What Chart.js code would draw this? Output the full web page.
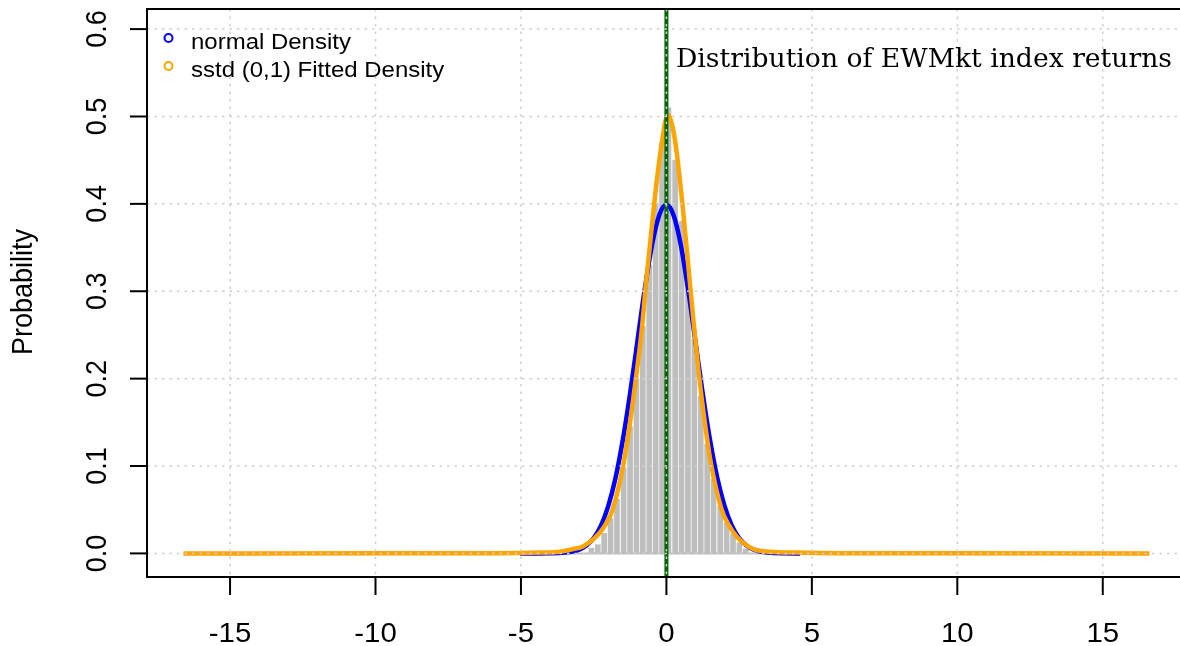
<!DOCTYPE html>
<html>
<head>
<meta charset="utf-8">
<script src="https://cdn.jsdelivr.net/npm/chart.js@4.4.0/dist/chart.umd.min.js"></script>
<style>
  html, body { margin: 0; padding: 0; background: #fff; }
  #wrap { width: 1180px; height: 646px; }
</style>
</head>
<body>
<div id="wrap"><canvas id="chart1" width="1180" height="646"></canvas></div>
<script>
// histogram of the standardised returns (bin centres / density)
const binCenters = [-2.58, -2.36, -2.14, -1.92, -1.70, -1.47, -1.25, -1.03, -0.81, -0.59, -0.37, -0.15,
  0.07, 0.30, 0.52, 0.74, 0.96, 1.18, 1.40, 1.62, 1.85, 2.07, 2.29, 2.51, 2.73];
const binDensity = [0.006, 0.010, 0.023, 0.040, 0.062, 0.098, 0.145, 0.200, 0.26, 0.33, 0.40, 0.47,
  0.51, 0.45, 0.38, 0.31, 0.245, 0.18, 0.125, 0.085, 0.055, 0.035, 0.022, 0.012, 0.005];
// the empty outer bins show as a flat grey line
const histRangeX = [-16.6, 16.6];
const histRangeY = [0, 0];

const normalX = [-5.03, -4.5, -4, -3.5, -3, -2.75, -2.5, -2.25, -2, -1.75, -1.5, -1.25, -1, -0.75, -0.5, -0.25,
  0, 0.25, 0.5, 0.75, 1, 1.25, 1.5, 1.75, 2, 2.25, 2.5, 2.75, 3, 3.5, 4, 4.6];
const normalY = [0, 0, 0.0001, 0.0009, 0.0044, 0.0091, 0.0175, 0.0317, 0.054, 0.0863, 0.1295, 0.1826, 0.242, 0.3011, 0.3521, 0.3867,
  0.3989, 0.3867, 0.3521, 0.3011, 0.242, 0.1826, 0.1295, 0.0863, 0.054, 0.0317, 0.0175, 0.0091, 0.0044, 0.0009, 0.0001, 0];

const sstdX = [-16.6, -10, -6, -4.35, -3.66, -3.2, -2.87, -2.45, -2.15, -1.85, -1.49, -1.25, -1.05, -0.85, -0.7, -0.42, -0.2,
  0.05, 0.2, 0.35, 0.55, 0.75, 0.92, 1.1, 1.3, 1.52, 1.9, 2.15, 2.42, 2.98, 3.56, 4.5, 6, 10, 16.6];
const sstdY = [0, 0.0001, 0.0003, 0.001, 0.002, 0.005, 0.008, 0.018, 0.03, 0.05, 0.1, 0.15, 0.2, 0.255, 0.31, 0.4, 0.46,
  0.502, 0.49, 0.46, 0.4, 0.33, 0.27, 0.21, 0.155, 0.105, 0.05, 0.032, 0.019, 0.005, 0.002, 0.001, 0.0003, 0.0001, 0];

const xTicks = [-15, -10, -5, 0, 5, 10, 15];
const yTicks = [0, 0.1, 0.2, 0.3, 0.4, 0.5, 0.6];
const vlineX = 0;
const legendLabels = ["normal Density", "sstd (0,1) Fitted Density"];
const titleText = "Distribution of EWMkt index returns";
const yLabel = "Probability";

const PLOT = { left: 147, top: 9, bottom: 577 };
const SX = 1.09; // the picture is a bit wider than tall
const SANS = '"Liberation Sans", Arial, sans-serif';

function pts(xs, ys) { return xs.map((v, i) => ({ x: v, y: ys[i] })); }

function seg(ctx, x1, y1, x2, y2) {
  ctx.beginPath(); ctx.moveTo(x1, y1); ctx.lineTo(x2, y2); ctx.stroke();
}

function sansText(ctx, text, x, y, size, align, rot) {
  ctx.save();
  ctx.translate(x, y);
  ctx.scale(SX, 1);
  if (rot) ctx.rotate(-Math.PI / 2);
  ctx.font = size + 'px ' + SANS;
  ctx.textAlign = align;
  ctx.textBaseline = 'alphabetic';
  ctx.fillStyle = '#000';
  ctx.fillText(text, 0, 0);
  ctx.restore();
}

const rAxes = {
  id: 'rAxes',
  afterDatasetsDraw(chart) {
    const { ctx, chartArea: a, scales: { x, y } } = chart;
    ctx.save();
    // line at 0
    const x0 = x.getPixelForValue(vlineX);
    ctx.strokeStyle = '#006400';
    ctx.lineWidth = 4;
    seg(ctx, x0, a.top, x0, a.bottom);

    // dotted grid
    ctx.setLineDash([2.5, 5]);
    ctx.strokeStyle = '#cfcfcf';
    ctx.lineWidth = 1.5;
    xTicks.forEach(v => { const p = x.getPixelForValue(v); seg(ctx, p, a.top, p, a.bottom); });
    yTicks.forEach(v => { const p = y.getPixelForValue(v); seg(ctx, a.left, p, a.right, p); });
    ctx.setLineDash([]);

    // box and ticks
    ctx.strokeStyle = '#000';
    ctx.lineWidth = 2;
    ctx.beginPath();
    ctx.moveTo(a.right, a.top); ctx.lineTo(a.left, a.top);
    ctx.lineTo(a.left, a.bottom); ctx.lineTo(a.right, a.bottom);
    ctx.stroke();
    xTicks.forEach(v => {
      const p = x.getPixelForValue(v);
      seg(ctx, p, a.bottom, p, a.bottom + 18);
      sansText(ctx, String(v), p, 642, 27, 'center', false);
    });
    yTicks.forEach(v => {
      const p = y.getPixelForValue(v);
      seg(ctx, a.left - 17, p, a.left, p);
      sansText(ctx, v.toFixed(1), 106, p, 27, 'center', true);
    });
    sansText(ctx, yLabel, 32, 292, 27, 'center', true);

    // legend
    const cols = ['#0000ff', '#ffa500'];
    const rows = [38, 66];
    legendLabels.forEach((t, i) => {
      ctx.strokeStyle = cols[i];
      ctx.lineWidth = 2;
      ctx.beginPath();
      ctx.arc(168.5, rows[i], 4, 0, Math.PI * 2);
      ctx.stroke();
      sansText(ctx, t, 191, rows[i] + 10.5, 22, 'left', false);
    });

    // title text
    ctx.font = '26px "DejaVu Serif", serif';
    const w = ctx.measureText(titleText).width;
    ctx.translate(676, 67);
    ctx.scale(496 / w, 1);
    ctx.fillStyle = '#000';
    ctx.textAlign = 'left';
    ctx.fillText(titleText, 0, 0);
    ctx.restore();
  }
};

const ctx = document.querySelector('#chart1').getContext('2d');
new Chart(ctx, {
  type: 'line',
  data: {
    datasets: [
      {
        type: 'bar',
        label: 'hist',
        data: pts(binCenters, binDensity),
        backgroundColor: '#bebebe',
        borderWidth: 0,
        barThickness: 5,
        order: 4,
      },
      {
        label: 'base',
        data: pts(histRangeX, histRangeY),
        borderColor: '#bebebe',
        borderWidth: 2,
        pointRadius: 0,
        order: 3,
      },
      {
        label: legendLabels[0],
        data: pts(normalX, normalY),
        borderColor: '#0000ff',
        borderWidth: 4.5,
        pointRadius: 0,
        cubicInterpolationMode: 'monotone',
        order: 2,
      },
      {
        label: legendLabels[1],
        data: pts(sstdX, sstdY),
        borderColor: '#ffa500',
        borderWidth: 4.5,
        pointRadius: 0,
        cubicInterpolationMode: 'monotone',
        order: 1,
      },
    ],
  },
  options: {
    responsive: false,
    animation: false,
    layout: { padding: { top: PLOT.top, right: 0, left: 0, bottom: 0 } },
    plugins: { legend: { display: false }, tooltip: { enabled: false } },
    scales: {
      x: {
        type: 'linear', min: -17.855, max: 17.655, offset: false,
        grid: { display: false }, border: { display: false }, ticks: { display: false },
        afterFit: s => { s.height = 646 - PLOT.bottom; },
      },
      y: {
        type: 'linear', min: -0.027, max: 0.623,
        grid: { display: false }, border: { display: false }, ticks: { display: false },
        afterFit: s => { s.width = PLOT.left; },
      },
    },
  },
  plugins: [rAxes],
});
</script>
</body>
</html>
